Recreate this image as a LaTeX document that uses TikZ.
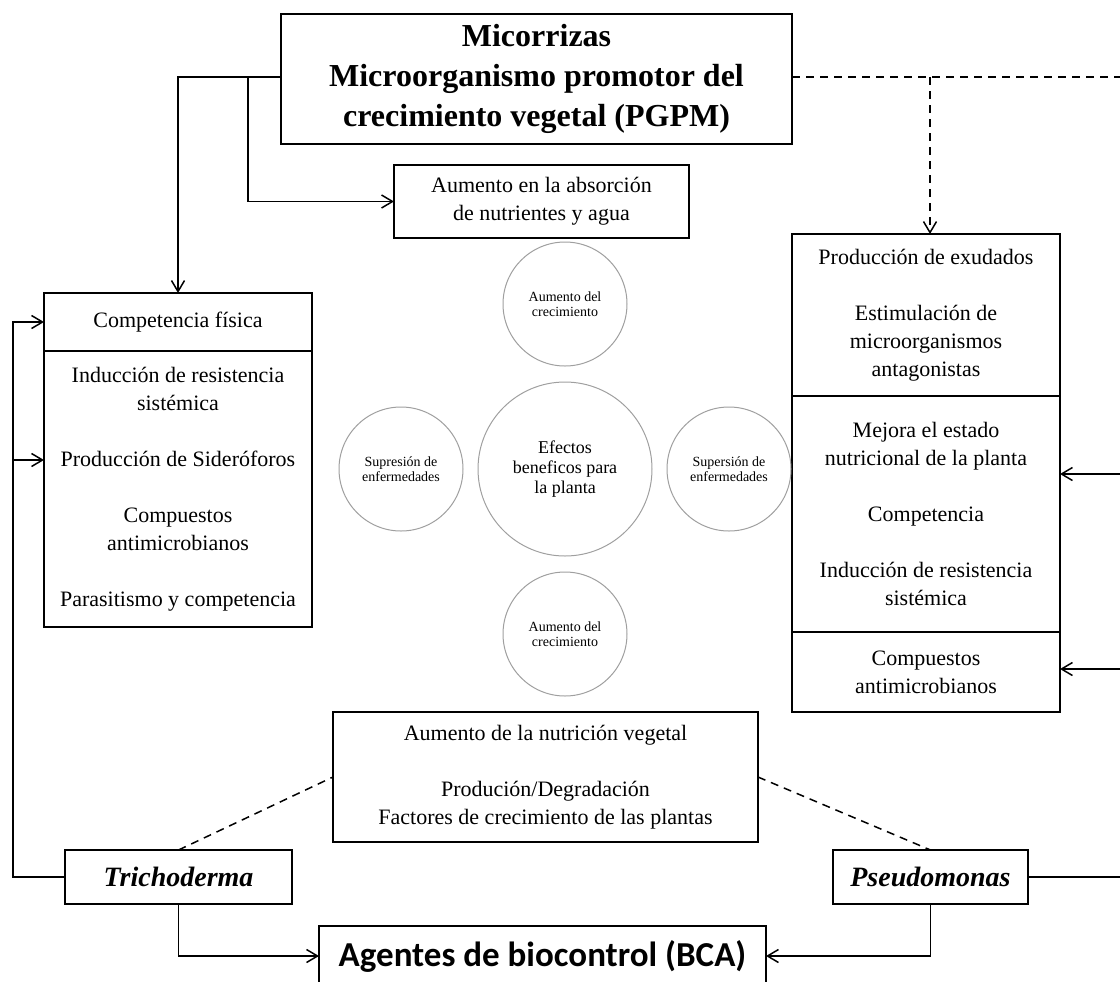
\documentclass[tikz,border=0pt]{standalone}
\usepackage{fontspec}
\setmainfont{Liberation Serif}
\newfontfamily\calibri{Carlito}
\usetikzlibrary{positioning,arrows.meta}

\begin{document}
\begin{tikzpicture}[x=0.5pt,y=-0.5pt,
		font=\fontsize{11}{14}\selectfont,
		>={Straight Barb[length=5.5pt,width=6.5pt]},
		caja/.style={draw,line width=0.9pt,align=center,inner sep=2pt,outer sep=0pt},
		circulo/.style={draw=gray!75,circle,line width=0.5pt,align=center,inner sep=0pt},
		chico/.style={circulo,minimum size=62pt,font=\fontsize{7}{7.5}\selectfont},
		flecha/.style={line width=0.75pt},
		discontinua/.style={line width=0.75pt,dash pattern=on 4pt off 3pt}]
			\useasboundingbox (0,0) rectangle (1120,981);
			\node(Micorrizas)	[caja, minimum width=255.5pt, minimum height=65pt, font=\fontsize{16}{20}\selectfont\bfseries] at (536.5,79)	{Micorrizas\\Microorganismo promotor del\\crecimiento vegetal (PGPM)};
			\node(Absorcion)	[caja, minimum width=147.5pt, minimum height=36.5pt] at (541.5,201.5)	{Aumento en la absorción\\de nutrientes y agua};
			\node(CompFisica)	[caja, minimum width=134pt, minimum height=29pt] at (178,322)	{Competencia física};
			\node(Mecanismos)	[caja, minimum width=134pt, minimum height=138pt, below=0pt of CompFisica]	{Inducción de resistencia\\sistémica\\[14pt]Producción de Sideróforos\\[14pt]Compuestos\\antimicrobianos\\[14pt]Parasitismo y competencia};
			\node(Exudados)		[caja, minimum width=134pt, minimum height=81pt] at (926,315)	{Producción de exudados\\[14pt]Estimulación de\\microorganismos\\antagonistas};
			\node(Nutricional)	[caja, minimum width=134pt, minimum height=118pt, below=0pt of Exudados]	{Mejora el estado\\nutricional de la planta\\[14pt]Competencia\\[14pt]Inducción de resistencia\\sistémica};
			\node(Antimicrob)	[caja, minimum width=134pt, minimum height=40pt, below=0pt of Nutricional]	{Compuestos\\antimicrobianos};
			\node(Efectos)		[circulo, minimum size=87pt, font=\fontsize{9}{10}\selectfont] at (565,469)	{Efectos\\beneficos para\\la planta};
			\node(CrecArriba)	[chico, above=7.5pt of Efectos]	{Aumento del\\crecimiento};
			\node(CrecAbajo)	[chico, below=7.5pt of Efectos]	{Aumento del\\crecimiento};
			\node(SupIzq)		[chico, left=7pt of Efectos]	{Supresión de\\enfermedades};
			\node(SupDer)		[chico, right=7pt of Efectos]	{Supersión de\\enfermedades};
			\node(Nutricion)	[caja, minimum width=212.5pt, minimum height=65pt] at (545.5,777)	{Aumento de la nutrición vegetal\\[14pt]Produción/Degradación\\Factores de crecimiento de las plantas};
			\node(Trichoderma)	[caja, minimum width=113.5pt, minimum height=27pt, font=\fontsize{14}{16}\selectfont\bfseries\itshape] at (178.5,877)	{Trichoderma};
			\node(Pseudomonas)	[caja, minimum width=97.5pt, minimum height=27pt, font=\fontsize{14}{16}\selectfont\bfseries\itshape] at (930.5,877)	{Pseudomonas};
			\node(BCA)			[caja, minimum width=223.5pt, minimum height=30pt, font=\calibri\fontsize{17.5}{20}\selectfont\bfseries] at (542.5,956)	{Agentes de biocontrol (BCA)};
			\coordinate(RamaIzq)	at (248,77);
			\coordinate(RamaDer)	at (930,77);
			\coordinate(BordeDer)	at (1124,77);
			\coordinate(Retorno)	at (1124,877);
			\coordinate(EntradaA)	at (1124,474);
			\coordinate(EntradaB)	at (1124,669);
			\coordinate(Lazo)		at (13,460);
			\draw[flecha,->] (RamaIzq -| Micorrizas.west) -| (CompFisica.north);
			\draw[flecha,->] (RamaIzq) |- (Absorcion.west);
			\draw[discontinua] (RamaIzq -| Micorrizas.east) -- (BordeDer);
			\draw[discontinua,->] (RamaDer) -- (RamaDer |- Exudados.north);
			\draw[flecha] (Pseudomonas.east) -- (Retorno) -- (EntradaA);
			\draw[flecha,->] (EntradaA) -- (EntradaA -| Nutricional.east);
			\draw[flecha,->] (EntradaB) -- (EntradaB -| Antimicrob.east);
			\draw[flecha,->] (Trichoderma.west) -| (Lazo) |- (CompFisica.west);
			\draw[flecha,->] (Lazo) -- (Lazo -| Mecanismos.west);
			\draw[discontinua] (Trichoderma.north) -- (Nutricion.west);
			\draw[discontinua] (Nutricion.east) -- (Pseudomonas.north);
			\draw[flecha,->] (Trichoderma.south) |- (BCA.west);
			\draw[flecha,->] (Pseudomonas.south) |- (BCA.east);
		\end{tikzpicture}
\end{document}
